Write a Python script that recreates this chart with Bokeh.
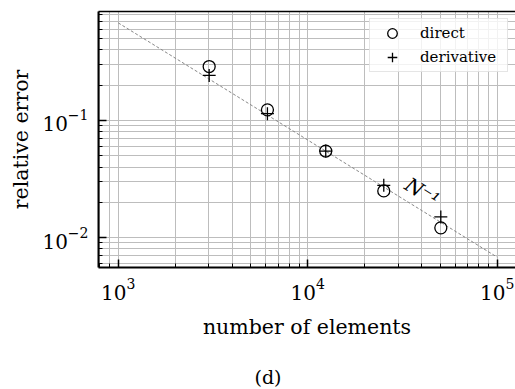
from bokeh.plotting import figure
from bokeh.layouts import column
from bokeh.models import (ColumnDataSource, FixedTicker, LogAxis, Legend, LegendItem)
from bokeh.core.properties import value
from bokeh.embed import file_html
from bokeh.resources import INLINE

# mesh sizes and measured relative errors
n_elements = [3020, 6130, 12450, 25200, 50400]
err_direct = [0.288, 0.123, 0.0547, 0.0250, 0.0121]
err_derivative = [0.242, 0.114, 0.0547, 0.0279, 0.0150]

# first-order reference slope
ref_n = [1e3, 1e5]
ref_err = [0.68, 0.0068]
slope_label_n = [40200]
slope_label_err = [0.0245]
slope_label_text = ["N\u207b\u00b9"]

x_major = [1e3, 1e4, 1e5]
x_minor = [m * 10 ** e for e in (2, 3, 4) for m in range(2, 10)] + [2e5]
y_major = [1e-3, 1e-2, 1e-1, 1e0]
y_minor = [m * 10 ** e for e in (-3, -2, -1) for m in range(2, 10)]

panel_caption = "(d)"

FONT = "DejaVu Serif"

p = figure(width=515, height=360, x_axis_type="log", y_axis_type="log",
           x_range=(787, 124900), y_range=(0.00555, 0.85),
           output_backend="svg", toolbar_location=None,
           min_border_left=98, min_border_right=0, min_border_top=11,
           min_border_bottom=93)
p.outline_line_color = None
p.background_fill_color = "white"
p.border_fill_color = "white"

xticker = FixedTicker(ticks=x_major, minor_ticks=x_minor)
yticker = FixedTicker(ticks=y_major, minor_ticks=y_minor)

# axes
xax = p.xaxis[0]
yax = p.yaxis[0]
xax.ticker = xticker
yax.ticker = yticker
for ax in (xax, yax):
    ax.axis_line_width = 2
    ax.axis_line_color = "black"
    ax.major_tick_in = 8
    ax.major_tick_out = 0
    ax.minor_tick_in = 4
    ax.minor_tick_out = 0
    ax.major_tick_line_width = 1.5
    ax.minor_tick_line_width = 1
    ax.major_label_text_font = FONT
    ax.major_label_text_font_size = "20px"
    ax.major_label_text_color = "black"
    ax.major_label_standoff = 10
    ax.axis_label_text_font = FONT
    ax.axis_label_text_font_size = "20.5px"
    ax.axis_label_text_font_style = "normal"
    ax.axis_label_text_color = "black"
xax.axis_label = "number of elements"
yax.axis_label = "relative error"
xax.axis_label_standoff = 12
yax.axis_label_standoff = 6

# grid: major and minor lines on both axes
for g in (p.xgrid[0], p.ygrid[0]):
    g.grid_line_color = "#bdbdbd"
    g.grid_line_width = 1
    g.minor_grid_line_color = "#bdbdbd"
    g.minor_grid_line_width = 1
p.xgrid[0].ticker = xticker
p.ygrid[0].ticker = yticker

# top spine
top = LogAxis(ticker=FixedTicker(ticks=[]), axis_line_width=1.5,
              major_tick_in=0, major_tick_out=0, minor_tick_in=0,
              minor_tick_out=0, major_label_text_font_size="0px",
              major_label_standoff=0)
p.add_layout(top, "above")

src = ColumnDataSource(dict(n=n_elements, direct=err_direct,
                            derivative=err_derivative))

p.line(ref_n, ref_err, line_color="#888888", line_width=1, line_dash="3 2")
p.text(x=slope_label_n, y=slope_label_err, text=slope_label_text,
       angle=-0.555, text_align="center", text_baseline="middle",
       text_font=value(FONT), text_font_style="italic",
       text_font_size="20px", text_color="black")

r_direct = p.scatter("n", "direct", source=src, marker="circle", size=12,
                     fill_color=None, line_color="black", line_width=1.3)
r_deriv = p.scatter("n", "derivative", source=src, marker="cross", size=13,
                    line_color="black", line_width=1.3)

legend = Legend(items=[LegendItem(label="direct", renderers=[r_direct]),
                       LegendItem(label="derivative", renderers=[r_deriv])],
                location="top_right", margin=7, padding=2, spacing=-1,
                glyph_width=40, glyph_height=24, label_height=24,
                label_width=85, label_standoff=8, label_text_font=FONT,
                label_text_font_size="15px", label_text_color="black",
                border_line_color="#cccccc", border_line_width=1.5,
                background_fill_color="white", background_fill_alpha=0.8)
p.add_layout(legend)

# caption strip under the chart; it shares the chart's horizontal scale
cap = figure(width=515, height=29, x_axis_type="log", x_range=p.x_range,
             y_range=(0, 29), output_backend="svg", toolbar_location=None,
             min_border_left=98, min_border_right=0, min_border_top=0,
             min_border_bottom=0, x_axis_location=None, y_axis_location=None)
cap.outline_line_color = None
cap.xgrid.visible = False
cap.ygrid.visible = False
cap.background_fill_color = "white"
cap.border_fill_color = "white"
cap.text(x=[6172], y=[13], text=[panel_caption], text_align="center",
         text_baseline="middle", text_font=value(FONT),
         text_font_size="19px", text_color="black")

layout = column(p, cap, spacing=0)
open("out.html", "w").write(file_html(layout, INLINE))
